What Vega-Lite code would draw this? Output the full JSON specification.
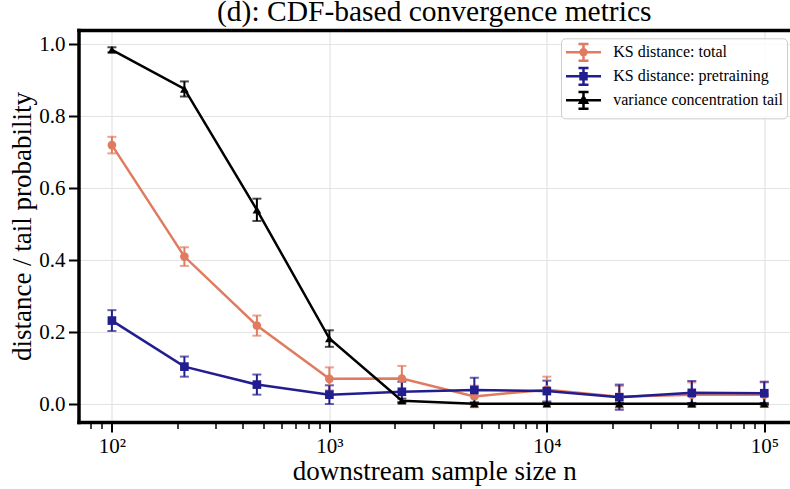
{
  "$schema": "https://vega.github.io/schema/vega-lite/v6.json",
  "width": 711.5,
  "height": 392,
  "autosize": {"type": "none"},
  "padding": {"left": 78.5, "top": 30, "right": 0, "bottom": 67},
  "title": {"text": "(d): CDF-based convergence metrics", "font": "Liberation Serif", "fontSize": 29.5, "fontWeight": "normal", "color": "black", "anchor": "middle", "offset": 3},
  "data": {"values": [
    {"n": 100, "series": "KS distance: total", "v": 0.720, "lo": 0.697, "hi": 0.743},
    {"n": 215.443, "series": "KS distance: total", "v": 0.410, "lo": 0.384, "hi": 0.436},
    {"n": 464.159, "series": "KS distance: total", "v": 0.218, "lo": 0.190, "hi": 0.246},
    {"n": 1000, "series": "KS distance: total", "v": 0.070, "lo": 0.038, "hi": 0.102},
    {"n": 2154.43, "series": "KS distance: total", "v": 0.071, "lo": 0.036, "hi": 0.106},
    {"n": 4641.59, "series": "KS distance: total", "v": 0.021, "lo": -0.009, "hi": 0.051},
    {"n": 10000, "series": "KS distance: total", "v": 0.040, "lo": 0.004, "hi": 0.076},
    {"n": 21544.3, "series": "KS distance: total", "v": 0.020, "lo": -0.010, "hi": 0.050},
    {"n": 46415.9, "series": "KS distance: total", "v": 0.026, "lo": -0.008, "hi": 0.060},
    {"n": 100000, "series": "KS distance: total", "v": 0.026, "lo": -0.008, "hi": 0.060},
    {"n": 100, "series": "KS distance: pretraining", "v": 0.232, "lo": 0.203, "hi": 0.261},
    {"n": 215.443, "series": "KS distance: pretraining", "v": 0.104, "lo": 0.076, "hi": 0.132},
    {"n": 464.159, "series": "KS distance: pretraining", "v": 0.054, "lo": 0.026, "hi": 0.082},
    {"n": 1000, "series": "KS distance: pretraining", "v": 0.026, "lo": 0.000, "hi": 0.052},
    {"n": 2154.43, "series": "KS distance: pretraining", "v": 0.034, "lo": 0.006, "hi": 0.062},
    {"n": 4641.59, "series": "KS distance: pretraining", "v": 0.039, "lo": 0.005, "hi": 0.073},
    {"n": 10000, "series": "KS distance: pretraining", "v": 0.036, "lo": 0.007, "hi": 0.065},
    {"n": 21544.3, "series": "KS distance: pretraining", "v": 0.019, "lo": -0.016, "hi": 0.054},
    {"n": 46415.9, "series": "KS distance: pretraining", "v": 0.031, "lo": -0.002, "hi": 0.064},
    {"n": 100000, "series": "KS distance: pretraining", "v": 0.030, "lo": -0.002, "hi": 0.062},
    {"n": 100, "series": "variance concentration tail", "v": 0.985, "lo": 0.978, "hi": 0.992},
    {"n": 215.443, "series": "variance concentration tail", "v": 0.876, "lo": 0.855, "hi": 0.897},
    {"n": 464.159, "series": "variance concentration tail", "v": 0.540, "lo": 0.509, "hi": 0.571},
    {"n": 1000, "series": "variance concentration tail", "v": 0.182, "lo": 0.159, "hi": 0.205},
    {"n": 2154.43, "series": "variance concentration tail", "v": 0.009, "lo": 0.003, "hi": 0.015},
    {"n": 4641.59, "series": "variance concentration tail", "v": 0.001, "lo": -0.001, "hi": 0.003},
    {"n": 10000, "series": "variance concentration tail", "v": 0.001, "lo": -0.001, "hi": 0.003},
    {"n": 21544.3, "series": "variance concentration tail", "v": 0.001, "lo": -0.001, "hi": 0.003},
    {"n": 46415.9, "series": "variance concentration tail", "v": 0.001, "lo": -0.001, "hi": 0.003},
    {"n": 100000, "series": "variance concentration tail", "v": 0.001, "lo": -0.001, "hi": 0.003}
  ]},
  "layer": [
    {
      "mark": {"type": "errorbar", "ticks": {"size": 9}, "thickness": 2},
      "encoding": {
        "x": {"field": "n", "type": "quantitative",
              "scale": {"type": "log", "domain": [70.2, 131300], "nice": false},
              "axis": {"orient": "bottom", "values": [100, 1000, 10000, 100000],
                       "labelExpr": "datum.value == 100 ? '10²' : datum.value == 1000 ? '10³' : datum.value == 10000 ? '10⁴' : '10⁵'",
                       "grid": true, "tickSize": 10, "tickWidth": 2, "labelFontSize": 21, "labelPadding": 3,
                       "domain": true, "domainWidth": 3.5, "domainCap": "square",
                       "title": "downstream sample size n", "titleFontSize": 27, "titlePadding": 2}},
        "y": {"field": "lo", "type": "quantitative",
              "scale": {"domain": [-0.05, 1.04], "nice": false, "zero": false},
              "axis": {"values": [0, 0.2, 0.4, 0.6, 0.8, 1.0], "format": ".1f", "grid": true,
                       "tickSize": 10, "tickWidth": 2, "labelFontSize": 21, "labelPadding": 3.5,
                       "domain": true, "domainWidth": 3.5, "domainCap": "square",
                       "title": "distance / tail probability", "titleFontSize": 27, "titlePadding": 2}},
        "y2": {"field": "hi"},
        "color": {"field": "series", "type": "nominal", "legend": null,
                  "scale": {"domain": ["KS distance: total", "KS distance: pretraining", "variance concentration tail"],
                            "range": ["#E07B5F", "#221E8F", "#000000"]}}
      }
    },
    {
      "mark": {"type": "line", "strokeWidth": 2.5},
      "encoding": {
        "x": {"field": "n", "type": "quantitative",
              "axis": {"orient": "bottom", "values": [80, 90, 200, 300, 400, 500, 600, 700, 800, 900, 2000, 3000, 4000, 5000, 6000, 7000, 8000, 9000, 20000, 30000, 40000, 50000, 60000, 70000, 80000, 90000],
                       "labels": false, "grid": false, "domain": false, "tickSize": 6.5, "tickWidth": 1.5, "title": null}},
        "y": {"field": "v", "type": "quantitative"},
        "color": {"field": "series", "type": "nominal", "legend": null,
                  "scale": {"domain": ["KS distance: total", "KS distance: pretraining", "variance concentration tail"],
                            "range": ["#E07B5F", "#221E8F", "#000000"]}},
        "detail": {"field": "series"}
      }
    },
    {
      "mark": {"type": "point", "filled": true, "size": 75, "opacity": 1},
      "encoding": {
        "x": {"field": "n", "type": "quantitative",
              "axis": {"orient": "top", "labels": false, "ticks": false, "grid": false, "domain": true, "domainWidth": 3.5, "domainCap": "square", "title": null}},
        "y": {"field": "v", "type": "quantitative"},
        "color": {"field": "series", "type": "nominal", "legend": null,
                  "scale": {"domain": ["KS distance: total", "KS distance: pretraining", "variance concentration tail"],
                            "range": ["#E07B5F", "#221E8F", "#000000"]}},
        "shape": {"field": "series", "type": "nominal", "legend": null,
                  "scale": {"domain": ["KS distance: total", "KS distance: pretraining", "variance concentration tail"],
                            "range": ["circle", "square", "triangle-up"]}}
      }
    },
    {
      "mark": {"type": "point", "filled": false, "opacity": 0, "size": 289},
      "encoding": {
        "x": {"field": "n", "type": "quantitative", "axis": null},
        "y": {"field": "v", "type": "quantitative"},
        "color": {"field": "series", "type": "nominal",
                  "scale": {"domain": ["KS distance: total", "KS distance: pretraining", "variance concentration tail"],
                            "range": ["#E07B5F", "#221E8F", "#000000"]},
                  "legend": {"title": null, "orient": "none", "legendX": 482.5, "legendY": 8.3,
                             "labelFont": "Liberation Serif", "labelFontSize": 16, "labelColor": "black", "labelLimit": 400,
                             "labelOffset": 19.7, "padding": 4, "rowPadding": -5,
                             "symbolSize": 289, "symbolStrokeWidth": 2.5, "symbolOffset": 8.5, "symbolOpacity": 1,
                             "strokeColor": "#cccccc", "fillColor": "rgba(255,255,255,0.85)", "cornerRadius": 4}},
        "shape": {"field": "series", "type": "nominal",
                  "scale": {"domain": ["KS distance: total", "KS distance: pretraining", "variance concentration tail"],
                            "range": [
                              "M-2.06,0H2.06M0,-0.98V0.98M-0.59,-0.98H0.59M-0.59,0.98H0.59M0.35,0A0.35,0.35,0,1,1,-0.35,0A0.35,0.35,0,1,1,0.35,0ZM0.1,0A0.1,0.1,0,1,1,-0.1,0A0.1,0.1,0,1,1,0.1,0Z",
                              "M-2.06,0H2.06M0,-0.98V0.98M-0.59,-0.98H0.59M-0.59,0.98H0.59M-0.35,-0.35H0.35V0.35H-0.35ZM-0.12,-0.12H0.12V0.12H-0.12Z",
                              "M-2.06,0H2.06M0,-0.98V0.98M-0.59,-0.98H0.59M-0.59,0.98H0.59M0,-0.42L0.42,0.3H-0.42ZM0,-0.12L0.12,0.08H-0.12Z"]},
                  "legend": {"title": null, "orient": "none", "legendX": 482.5, "legendY": 8.3,
                             "labelFont": "Liberation Serif", "labelFontSize": 16, "labelColor": "black", "labelLimit": 400,
                             "labelOffset": 19.7, "padding": 4, "rowPadding": -5,
                             "symbolSize": 289, "symbolStrokeWidth": 2.5, "symbolOffset": 8.5, "symbolOpacity": 1,
                             "strokeColor": "#cccccc", "fillColor": "rgba(255,255,255,0.85)", "cornerRadius": 4}}
      }
    }
  ],
  "resolve": {"axis": {"x": "independent"}, "scale": {"color": "independent", "shape": "independent"}},
  "config": {
    "font": "Liberation Serif",
    "view": {"stroke": null},
    "axis": {"labelFont": "Liberation Serif", "titleFont": "Liberation Serif", "labelColor": "black", "titleColor": "black",
             "tickColor": "black", "domainColor": "black", "gridColor": "#e3e3e3", "gridWidth": 1.2, "titleFontWeight": "normal"}
  }
}
